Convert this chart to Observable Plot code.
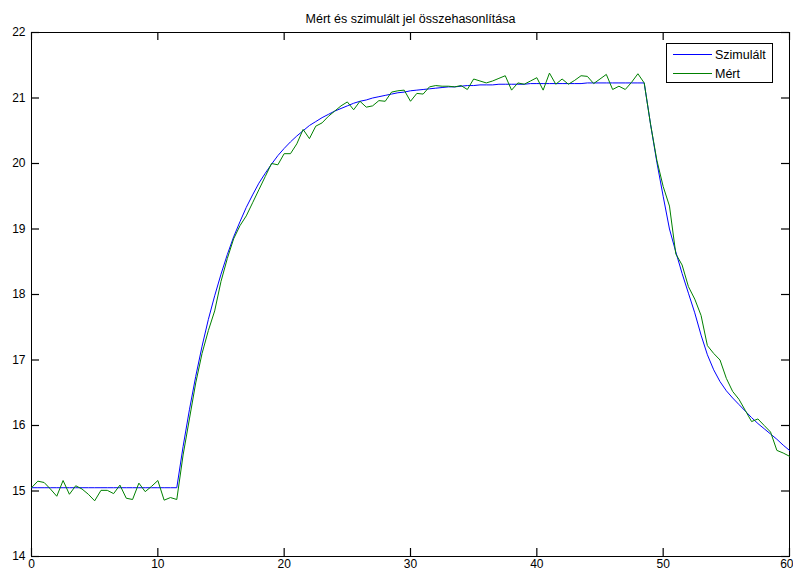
<!DOCTYPE html>
<html>
<head>
<meta charset="utf-8">
<script src="https://cdn.jsdelivr.net/npm/d3@7"></script>
<script src="https://cdn.jsdelivr.net/npm/@observablehq/plot@0.6"></script>
<style>
  body { margin: 0; background: #fff; }
  #wrap { position: relative; width: 793px; height: 571px; overflow: hidden; font-family: "Liberation Sans", Arial, sans-serif; background: #fff; }
  #base, #over { position: absolute; left: 0; top: 0; }
  #legend { position: absolute; left: 666px; top: 43px; width: 107px; height: 40px; }
</style>
</head>
<body>
<div id="wrap"><div id="base"></div><div id="over"></div><div id="legend"></div></div>
<script>
const titleText = "Mért és szimulált jel összehasonlítása";
const seriesNames = ["Szimulált", "Mért"];
const seriesColors = ["#0000ff", "#008000"];
const xTicks = [0, 10, 20, 30, 40, 50, 60];
const yTicks = [14, 15, 16, 17, 18, 19, 20, 21, 22];

const time = [
  0, 0.5, 1, 1.5, 2, 2.5, 3, 3.5, 4, 4.5, 5, 5.5, 6, 6.5, 7, 7.5, 8, 8.5, 9, 9.5,
  10, 10.5, 11, 11.5, 12, 12.5, 13, 13.5, 14, 14.5, 15, 15.5, 16, 16.5, 17, 17.5, 18, 18.5, 19, 19.5,
  20, 20.5, 21, 21.5, 22, 22.5, 23, 23.5, 24, 24.5, 25, 25.5, 26, 26.5, 27, 27.5, 28, 28.5, 29, 29.5,
  30, 30.5, 31, 31.5, 32, 32.5, 33, 33.5, 34, 34.5, 35, 35.5, 36, 36.5, 37, 37.5, 38, 38.5, 39, 39.5,
  40, 40.5, 41, 41.5, 42, 42.5, 43, 43.5, 44, 44.5, 45, 45.5, 46, 46.5, 47, 47.5, 48, 48.5, 49, 49.5,
  50, 50.5, 51, 51.5, 52, 52.5, 53, 53.5, 54, 54.5, 55, 55.5, 56, 56.5, 57, 57.5, 58, 58.5, 59, 59.5,
  60
];

const simulated = [
  15.05, 15.05, 15.05, 15.05, 15.05, 15.05, 15.05, 15.05, 15.05, 15.05,
  15.05, 15.05, 15.05, 15.05, 15.05, 15.05, 15.05, 15.05, 15.05, 15.05,
  15.05, 15.05, 15.05, 15.05, 15.68, 16.24, 16.75, 17.21, 17.62, 17.98,
  18.31, 18.61, 18.88, 19.11, 19.33, 19.52, 19.70, 19.85, 19.99, 20.12,
  20.23, 20.33, 20.42, 20.50, 20.58, 20.64, 20.70, 20.75, 20.80, 20.84,
  20.88, 20.92, 20.95, 20.97, 21.00, 21.02, 21.04, 21.06, 21.08, 21.09,
  21.11, 21.12, 21.13, 21.14, 21.15, 21.16, 21.17, 21.17, 21.18, 21.19,
  21.19, 21.20, 21.20, 21.20, 21.21, 21.21, 21.21, 21.21, 21.21, 21.22,
  21.22, 21.22, 21.22, 21.22, 21.22, 21.22, 21.22, 21.22, 21.23, 21.23,
  21.23, 21.23, 21.23, 21.23, 21.23, 21.23, 21.23, 21.23, 20.60, 20.02,
  19.50, 19.00, 18.65, 18.32, 18.02, 17.72, 17.38, 17.08, 16.85, 16.67,
  16.53, 16.42, 16.32, 16.22, 16.12, 16.03, 15.95, 15.87, 15.79, 15.70,
  15.62
];

const measured = [
  15.05, 15.15, 15.13, 15.03, 14.92, 15.16, 14.95, 15.08, 15.03, 14.95,
  14.85, 15.01, 15.01, 14.96, 15.09, 14.89, 14.87, 15.12, 14.99, 15.07,
  15.16, 14.86, 14.90, 14.87, 15.55, 16.10, 16.65, 17.10, 17.45, 17.75,
  18.20, 18.55, 18.85, 19.05, 19.20, 19.40, 19.60, 19.80, 20.00, 19.98,
  20.15, 20.15, 20.30, 20.52, 20.38, 20.57, 20.62, 20.72, 20.80, 20.88,
  20.94, 20.82, 20.95, 20.86, 20.88, 20.96, 20.95, 21.09, 21.11, 21.12,
  20.95, 21.07, 21.06, 21.17, 21.19, 21.18, 21.18, 21.17, 21.19, 21.13,
  21.29, 21.26, 21.23, 21.26, 21.30, 21.34, 21.12, 21.23, 21.21, 21.26,
  21.31, 21.12, 21.38, 21.21, 21.29, 21.21, 21.27, 21.34, 21.33, 21.22,
  21.29, 21.36, 21.13, 21.18, 21.13, 21.24, 21.37, 21.23, 20.60, 20.05,
  19.65, 19.35, 18.62, 18.45, 18.12, 17.93, 17.68, 17.22, 17.10, 17.00,
  16.72, 16.52, 16.40, 16.23, 16.06, 16.10, 16.00, 15.90, 15.62, 15.58,
  15.53
];

const rows = time.map((t, i) => ({t, sim: simulated[i], meas: measured[i]}));

const W = 793, H = 571;
const mL = 31, mR = 4, mT = 32, mB = 15;
const frameW = W - mL - mR, frameH = H - mT - mB;
const lastX = xTicks[xTicks.length - 1];
const fontStack = "'Liberation Sans', Arial, sans-serif";

// Layer 1: box, inward ticks on all four sides, tick labels (y axis is Plot's default axis)
const base = Plot.plot({
  width: W, height: H,
  marginLeft: mL, marginRight: mR, marginTop: mT, marginBottom: mB,
  x: {domain: [0, 60], label: null},
  y: {domain: [14, 22], label: null, ticks: yTicks, tickSize: 0, tickPadding: 6, tickFormat: d => String(d)},
  style: {fontFamily: fontStack, fontSize: "12px", color: "black", background: "white"},
  marks: [
    Plot.frame({stroke: "black"}),
    Plot.tickX(xTicks, {x: d => d, insetTop: frameH - 8, stroke: "black", strokeWidth: 1.2}),
    Plot.tickX(xTicks, {x: d => d, insetBottom: frameH - 8, stroke: "black", strokeWidth: 1.2}),
    Plot.tickY(yTicks, {y: d => d, insetRight: frameW - 8, stroke: "black", strokeWidth: 1.2}),
    Plot.tickY(yTicks, {y: d => d, insetLeft: frameW - 8, stroke: "black", strokeWidth: 1.2}),
    Plot.axisX({ticks: xTicks.filter(d => d !== lastX), anchor: "bottom", tickSize: 0, tickPadding: 3, label: null}),
    Plot.axisX({ticks: [lastX], anchor: "bottom", tickSize: 0, tickPadding: 3, textAnchor: "end", dx: 4, label: null})
  ]
});
document.getElementById("base").appendChild(base);

// Layer 2: the two series and the title
const over = Plot.plot({
  width: W, height: H,
  marginLeft: mL, marginRight: mR, marginTop: mT, marginBottom: mB,
  x: {domain: [0, 60], axis: null, label: null},
  y: {domain: [14, 22], axis: null, label: null},
  style: {fontFamily: fontStack, fontSize: "12.5px", color: "black", background: "transparent"},
  marks: [
    Plot.line(rows, {x: "t", y: "sim", stroke: seriesColors[0], strokeWidth: 1}),
    Plot.line(rows, {x: "t", y: "meas", stroke: seriesColors[1], strokeWidth: 1}),
    Plot.text([titleText], {text: d => d, frameAnchor: "top", lineAnchor: "bottom", dy: -10, fontSize: 12.5})
  ]
});
document.getElementById("over").appendChild(over);

// Legend box (SVG)
const ns = "http://www.w3.org/2000/svg";
const lg = document.createElementNS(ns, "svg");
lg.setAttribute("width", 107);
lg.setAttribute("height", 40);
const box = document.createElementNS(ns, "rect");
box.setAttribute("x", 0.5); box.setAttribute("y", 0.5);
box.setAttribute("width", 106); box.setAttribute("height", 39);
box.setAttribute("fill", "#fff"); box.setAttribute("stroke", "#000");
lg.appendChild(box);
const rowY = [11.5, 30.5];
seriesNames.forEach((name, i) => {
  const ln = document.createElementNS(ns, "line");
  ln.setAttribute("x1", 7); ln.setAttribute("x2", 46);
  ln.setAttribute("y1", rowY[i]); ln.setAttribute("y2", rowY[i]);
  ln.setAttribute("stroke", seriesColors[i]);
  ln.setAttribute("stroke-width", 1);
  lg.appendChild(ln);
  const tx = document.createElementNS(ns, "text");
  tx.setAttribute("x", 49); tx.setAttribute("y", rowY[i]);
  tx.setAttribute("dy", "0.35em");
  tx.setAttribute("font-family", "Liberation Sans, Arial, sans-serif");
  tx.setAttribute("font-size", "12.5");
  tx.setAttribute("fill", "#000");
  tx.textContent = name;
  lg.appendChild(tx);
});
document.getElementById("legend").appendChild(lg);
</script>
</body>
</html>
